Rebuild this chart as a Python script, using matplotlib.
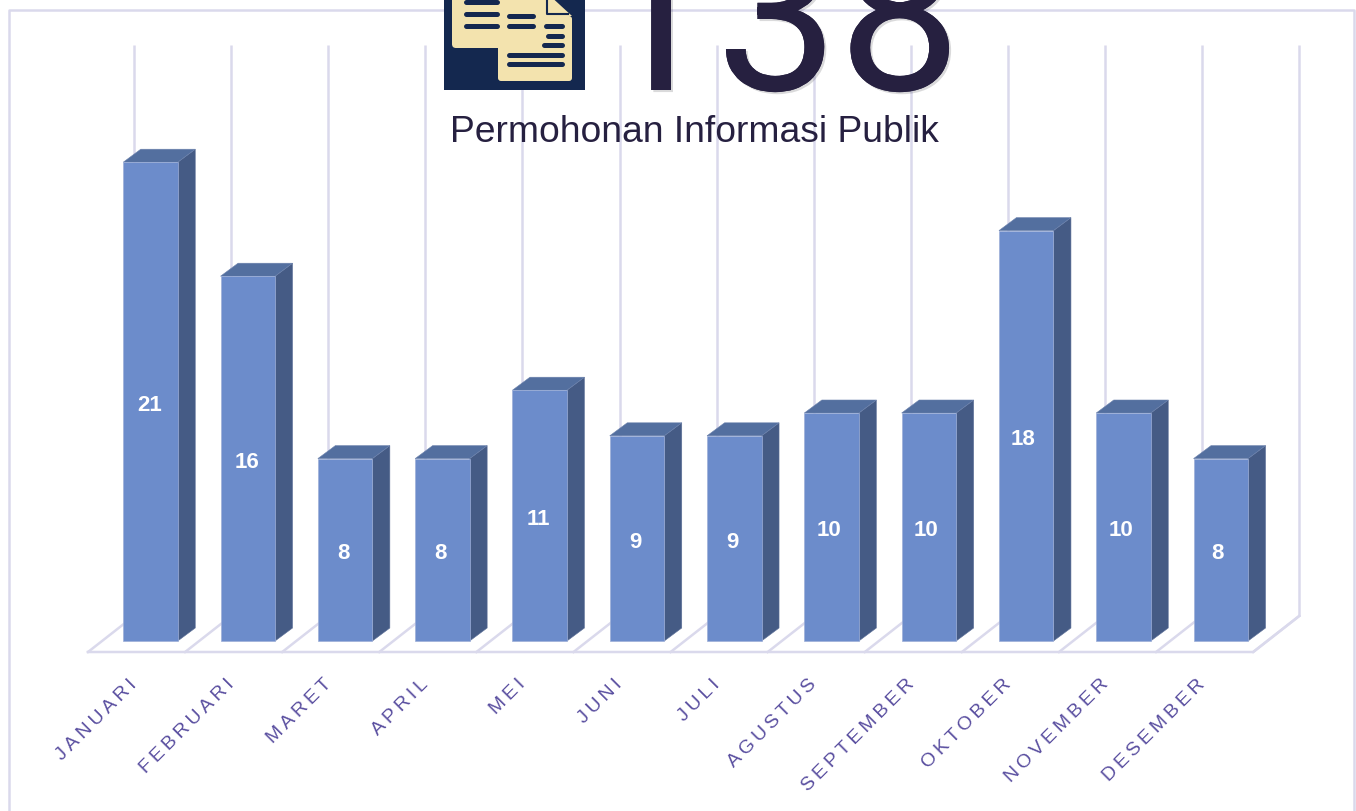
import matplotlib
matplotlib.use('Agg')
import numpy as np
from matplotlib import pyplot as plt
from matplotlib import patheffects as pe
from matplotlib.patches import Polygon, Rectangle, FancyBboxPatch

bulan = ['JANUARI', 'FEBRUARI', 'MARET', 'APRIL', 'MEI', 'JUNI', 'JULI',
         'AGUSTUS', 'SEPTEMBER', 'OKTOBER', 'NOVEMBER', 'DESEMBER']
jumlah = [21, 16, 8, 8, 11, 9, 9, 10, 10, 18, 10, 8]
total = '138'
judul = 'Permohonan Informasi Publik'

W, H = 1356, 812
plt.rcParams['font.family'] = ['Liberation Sans', 'DejaVu Sans']

GARIS = '#DAD9EC'
UNGU = '#5A4FA0'
GELAP = '#262040'
NAVY = '#14284F'
KREM = '#F3E3AE'

# scale: one category = 97.3 px, one request = 22.8 px
sx, sy = 97.3, 22.8
x0, y0 = 150.5, 642
dx, dy = 17.5 / sx, 13 / sy
lebar = 54.5 / sx
# wall lines and labels sit on a slightly tighter step than the bars
step = 97.1 / sx

fig = plt.figure(figsize=(W / 100, H / 100), dpi=100, facecolor='white')

ax = fig.add_axes([0, 0, 1, 1])
ax.set_xlim(-x0 / sx, (W - x0) / sx)
ax.set_ylim((y0 - H) / sy, y0 / sy)
ax.axis('off')

x = np.arange(len(bulan))

# back wall lines and floor
bawah = (y0 - 617) / sy
atas = (y0 - 46) / sy
depan = (y0 - 653) / sy
gx = np.arange(len(bulan) + 1) * step - 16.5 / sx
ax.vlines(gx, bawah, atas, color=GARIS, lw=1.8, zorder=1)
for g in gx:
    ax.plot([g - 46 / sx, g], [depan, bawah], color=GARIS, lw=1.8, zorder=1)
ax.plot([gx[0] - 46 / sx, gx[-1] - 46 / sx, gx[-1]], [depan, depan, bawah],
        color=GARIS, lw=1.8, zorder=1)

# bars
ax.bar(x, jumlah, width=lebar, color='#6C8CCB', edgecolor='#9DAFD8', lw=0.5, zorder=4)
for i, v in zip(x, jumlah):
    kanan = i + lebar / 2
    kiri = i - lebar / 2
    ax.add_patch(Polygon([(kanan, 0), (kanan + dx, dy), (kanan + dx, v + dy), (kanan, v)],
                         facecolor='#455B85', edgecolor='#5E7199', lw=0.4, zorder=3))
    ax.add_patch(Polygon([(kiri, v), (kiri + dx, v + dy), (kanan + dx, v + dy), (kanan, v)],
                         facecolor='#536F9F', edgecolor='#6C82AD', lw=0.4, zorder=3))
    ax.text(i * step - 1 / sx, v / 2 - 3 / sy, str(v), color='white', fontsize=16,
            fontweight='bold', ha='center', va='center', zorder=5)

# month labels, spaced out like the original
for i, nama in zip(x, bulan):
    ax.text(i * step - 22 / sx, (y0 - 676) / sy, '\u2009'.join(nama), color=UNGU, fontsize=14,
            rotation=45, rotation_mode='anchor', ha='right', va='top', zorder=5)

# overlay in pixel coordinates for frame, icon, heading
top = fig.add_axes([0, 0, 1, 1], zorder=2)
top.set_xlim(0, W)
top.set_ylim(H, 0)
top.axis('off')
top.patch.set_alpha(0)

top.plot([9, 9, 1354, 1354], [H, 11, 11, H], color=GARIS, lw=1.8, zorder=1)

top.add_patch(Rectangle((444, -5), 141, 96, facecolor=NAVY, edgecolor='none', zorder=2))
top.add_patch(FancyBboxPatch((454, -10), 58, 57, boxstyle='round,pad=2,rounding_size=4',
                             facecolor=KREM, edgecolor='none', zorder=3))
top.add_patch(FancyBboxPatch((500, 19), 70, 61, boxstyle='round,pad=2,rounding_size=3',
                             facecolor=KREM, edgecolor='none', zorder=4))
top.add_patch(Rectangle((498, -6), 50, 30, facecolor=KREM, edgecolor='none', zorder=4))
top.add_patch(Polygon([(547, -6), (547, 17), (572, 17)], facecolor=KREM, edgecolor='none', zorder=4))
top.plot([547, 547, 568], [-6, 15, 15], color=NAVY, lw=1.5, zorder=5)
for xa, xb, yy in [(466, 497, 3), (466, 497, 15), (466, 497, 27),
                   (509, 533, 17), (509, 533, 27),
                   (546, 562, 27), (548, 562, 37), (544, 562, 46),
                   (509, 562, 56), (509, 562, 65)]:
    top.plot([xa, xb], [yy, yy], color=NAVY, lw=3.6, solid_capstyle='round', zorder=6)

top.text(777, 91, total, color=GELAP, fontsize=157, family='Roboto', ha='center',
         va='baseline', zorder=3,
         path_effects=[pe.withSimplePatchShadow(offset=(1.5, -1.5), alpha=0.15), pe.Normal()])
top.text(694.5, 132.5, judul, color=GELAP, fontsize=26.8, ha='center', va='center', zorder=3)

fig.savefig('out.png', dpi=100)
